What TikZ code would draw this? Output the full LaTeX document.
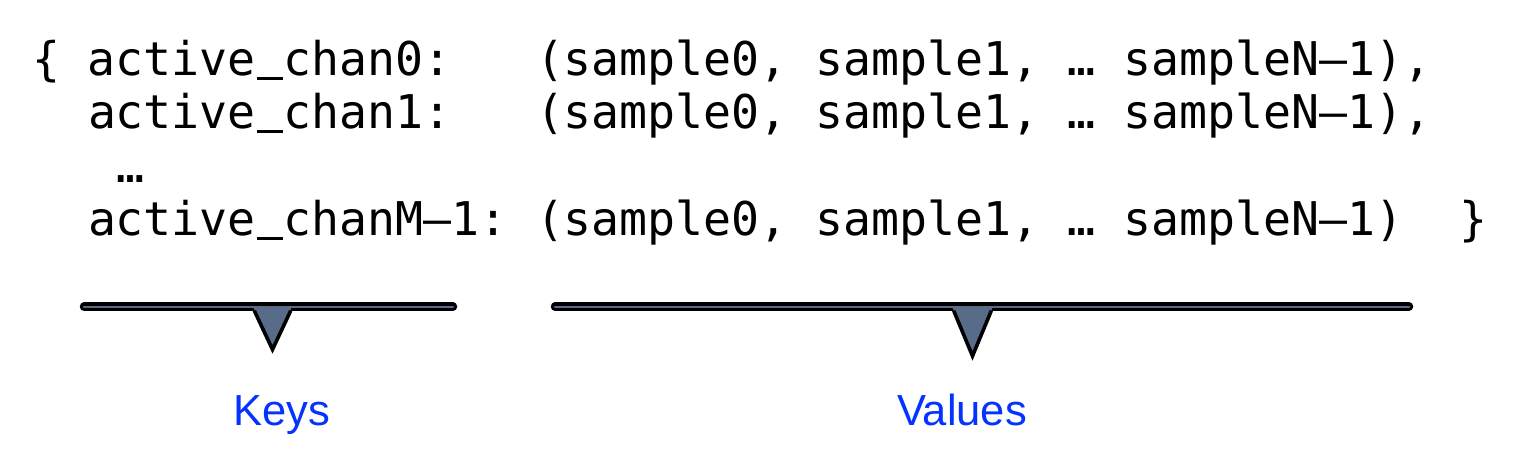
\documentclass[tikz,border=0pt]{standalone}
\usepackage{fontspec}
\newfontfamily\monofont{DejaVu Sans Mono}
\newfontfamily\labelfont{Liberation Sans}
\definecolor{slate}{RGB}{88,108,138}
\definecolor{labelblue}{RGB}{4,51,255}
\newcommand{\usc}{\makebox[0.602em][c]{\rule[-0.11em]{0.56em}{0.07em}}}
\tikzset{
  codetext/.style={anchor=base west, inner sep=0pt, outer sep=0pt,
    font=\monofont\fontsize{46.5pt}{53pt}\selectfont},
  lbl/.style={anchor=base, inner sep=0pt, text=labelblue,
    font=\labelfont\fontsize{43.5pt}{50pt}\selectfont},
  barouter/.style={line width=8.5pt, black, line cap=round},
  barinner/.style={line width=2.2pt, slate, line cap=round},
  tipfill/.style={fill=slate},
  tipline/.style={line width=3.6pt, black, line join=miter},
}
\begin{document}
\begin{tikzpicture}[x=1pt,y=-1pt]
\useasboundingbox (0,0) rectangle (1518,466);
% code lines
\node[codetext] (k1) at (32,75) {\{ active\usc chan0:};
\node[codetext] (v1) at (536,75) {(sample0, sample1, … sample{N}–1),};
\node[codetext] (k2) at (88,128) {active\usc chan1:};
\node[codetext] (v2) at (536,128) {(sample0, sample1, … sample{N}–1),};
\node[codetext] (k3) at (116,182) {…};
\node[codetext] (k4) at (88,235) {active\usc chanM–1:};
\node[codetext] (v4) at (536,235) {(sample0, sample1, … sample{N}–1)\ \ \}};
% keys bracket
\coordinate (ka) at (84,306.7);
\coordinate (kb) at (453,306.7);
\draw[barouter] (ka) -- (kb);
\fill[tipfill] (253,306.7) -- (292,306.7) -- (272.5,349.5) -- cycle;
\draw[tipline] (254.3,310.7) -- (272.5,349.5) -- (290.7,310.7);
\draw[barinner] (ka) -- (kb);
% values bracket
\coordinate (va) at (555,306.7);
\coordinate (vb) at (1409,306.7);
\draw[barouter] (va) -- (vb);
\fill[tipfill] (952.1,306.7) -- (992.9,306.7) -- (972.5,356) -- cycle;
\draw[tipline] (953.7,310.7) -- (972.5,356) -- (991.3,310.7);
\draw[barinner] (va) -- (vb);
% labels
\node[lbl] (keys) at (281.5,425) {Keys};
\node[lbl] (values) at (962,425) {Values};
\end{tikzpicture}
\end{document}
